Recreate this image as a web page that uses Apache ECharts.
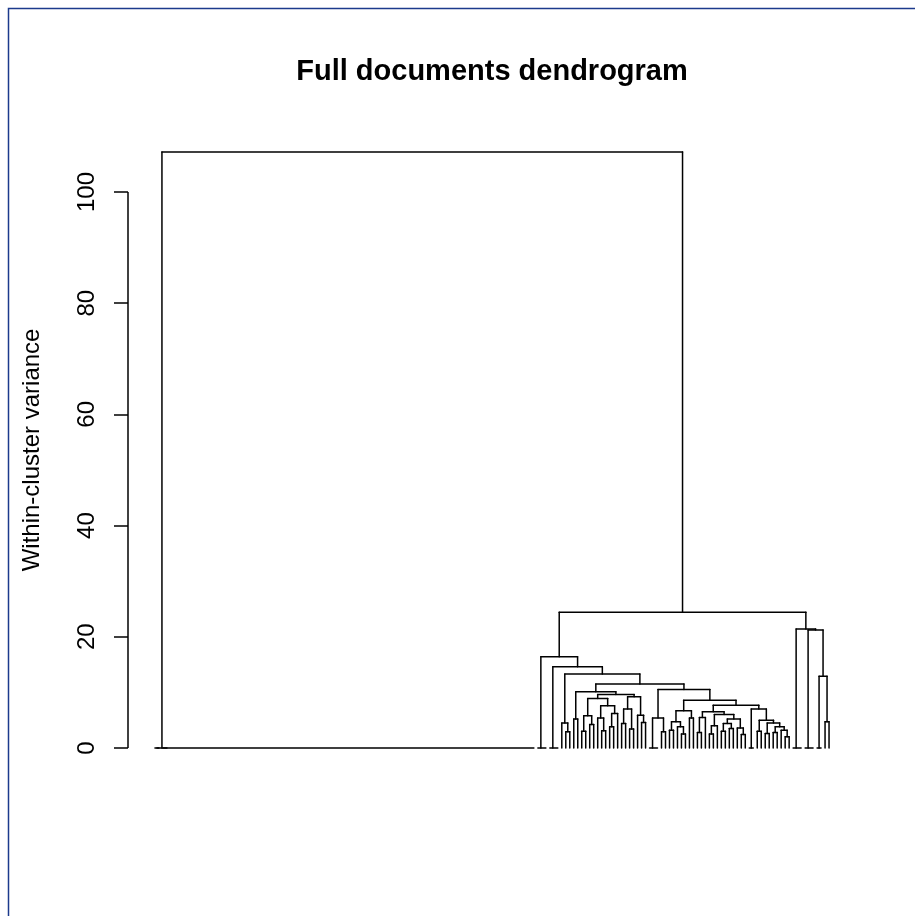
<!DOCTYPE html>
<html><head><meta charset="utf-8">
<script src="https://cdn.jsdelivr.net/npm/echarts@6/dist/echarts.min.js"></script>
<style>html,body{margin:0;padding:0;background:#fff}#c{width:915px;height:916px}</style>
</head><body><div id="c"></div>
<script>
// ---- data ----
const chartTitle = 'Full documents dendrogram';
const yAxisTitle = 'Within-cluster variance';
const yTicks = [0, 20, 40, 60, 80, 100];
// nodes: [mergeHeight, left, right]; an integer k = k identical documents (merged at 0)
const rootHeight = 107.2;
const rightHeight = 24.4;
const leftBranch = [0, 2, 94];
const midBranch = [16.4, 3,
  [14.6, 3,
    [13.3,
      [4.5, 1, [2.9, 1, 1]],
      [11.5,
        [10.1,
          [5.2, 1, 1],
          [9.6,
            [8.9,
              [5.8, [3.0, 1, 1], [4.2, 1, 1]],
              [7.6, [5.4, 1, [3.1, 1, 1]], [6.2, [3.8, 1, 1], 1]]],
            [9.2,
              [7.0, [4.4, 1, 1], [3.4, 1, 1]],
              [5.9, 1, [4.6, 1, 1]]]]],
        [10.5,
          [5.4, 3, [2.9, 1, 1]],
          [8.6,
            [6.7,
              [4.7, [3.2, 1, 1], [3.8, 1, [2.5, 1, 1]]],
              [5.4, 1, 1]],
            [7.7,
              [6.5,
                [5.5, [2.8, 1, 1], 1],
                [6.0,
                  [4.0, [2.5, 1, 1], 1],
                  [5.2, [4.4, [3.0, 1, 1], [3.5, 1, 1]], [3.6, 1, [2.4, 1, 1]]]]],
              [7.0, 2,
                [5.0, [3.0, 1, 1], [4.5, [2.6, 1, 1], [3.8, [2.8, 1, 1], [3.2, 1, [2.0, 1, 1]]]]]]]]]]]]];
const rightBranch = [21.4, 3, [21.2, 3, [12.9, 2, [4.7, 1, 1]]]];
const tree = [rootHeight, leftBranch, [rightHeight, midBranch, rightBranch]];

// ---- layout (leaf order index, merge heights) ----
let next = 1;
const segs = [];
function layout(node) {
  if (typeof node === 'number') {
    const first = next; next += node;
    if (node === 1) return {x: first, h: 0};
    segs.push([first, 0, first + node - 1, 0]);
    return {x: first + 1 - Math.pow(2, -(node - 1)), h: 0};
  }
  const h = node[0];
  const a = layout(node[1]), b = layout(node[2]);
  segs.push([a.x, a.h, a.x, h]);
  segs.push([a.x, h, b.x, h]);
  segs.push([b.x, b.h, b.x, h]);
  return {x: (a.x + b.x) / 2, h: h};
}
layout(tree);
const n = next - 1;
const xMin = 1 - 0.04 * (n - 1), xMax = n + 0.04 * (n - 1);
const yMin = -0.04 * rootHeight, yMax = rootHeight * 1.04;

const FONT = '"Liberation Sans", Arial, Helvetica, sans-serif';
const chart = echarts.init(document.getElementById('c'), null, {renderer: 'canvas'});
chart.setOption({
  animation: false,
  backgroundColor: '#fff',
  title: {
    text: chartTitle, left: 492, top: 57, textAlign: 'center', padding: 0,
    textStyle: {fontFamily: FONT, fontSize: 29, fontWeight: 'bold', color: '#000'}
  },
  graphic: [{
    type: 'rect', silent: true, z: 100,
    shape: {x: 8.5, y: 8.5, width: 1000, height: 1000},
    style: {fill: 'none', stroke: '#1c3a8c', lineWidth: 1.5}
  }],
  grid: {left: 128, right: 59, top: 128.1, bottom: 144.2},
  xAxis: {type: 'value', min: xMin, max: xMax, show: false},
  yAxis: {
    type: 'value', min: yMin, max: yMax,
    name: yAxisTitle, nameLocation: 'middle', nameGap: 84, nameRotate: 90,
    nameTextStyle: {fontFamily: FONT, fontSize: 24, color: '#000'},
    axisLine: {show: false, onZero: false},
    splitLine: {show: false},
    axisTick: {show: true, customValues: yTicks, length: 14, lineStyle: {color: '#000', width: 1.5}},
    axisLabel: {customValues: yTicks, rotate: 90, margin: 29, fontFamily: FONT, fontSize: 24, color: '#000'}
  },
  series: [{
    type: 'custom',
    clip: false,
    data: segs,
    renderItem: function (params, api) {
      const p1 = api.coord([api.value(0), api.value(1)]);
      const p2 = api.coord([api.value(2), api.value(3)]);
      return {type: 'line', shape: {x1: p1[0], y1: p1[1], x2: p2[0], y2: p2[1]},
              style: {stroke: '#000', lineWidth: 1.5, lineCap: 'round'}};
    }
  }, {
    type: 'line', clip: false, symbol: 'none',
    data: [[xMin, yTicks[0]], [xMin, yTicks[yTicks.length - 1]]],
    lineStyle: {color: '#000', width: 1.5}
  }]
});
</script></body></html>
